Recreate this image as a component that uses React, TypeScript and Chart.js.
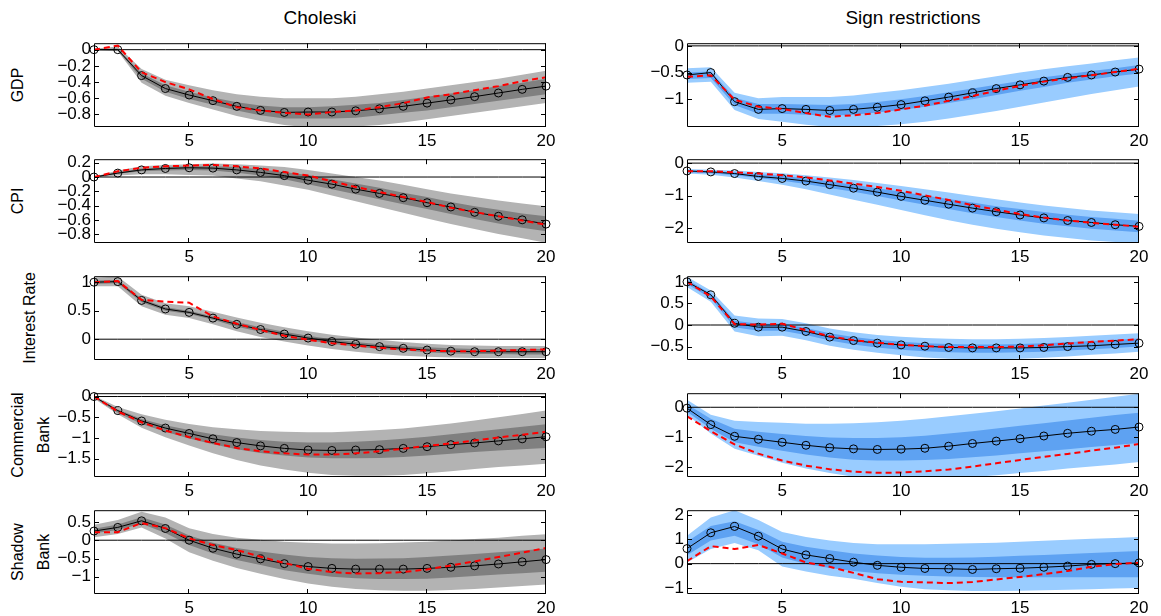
import React, { useEffect, useRef } from "react";
import { Chart, registerables } from "chart.js";

Chart.register(...registerables);
Chart.defaults.font.family = "'Liberation Sans', Arial, Helvetica, sans-serif";

// Horizon (quarters after the shock)
const horizons = [1, 2, 3, 4, 5, 6, 7, 8, 9, 10, 11, 12, 13, 14, 15, 16, 17, 18, 19, 20];
const xTickValues = [5, 10, 15, 20];

// ---------- Choleski identification ----------
const cholGdpMid = [0, 0, -0.32, -0.48, -0.56, -0.63, -0.7, -0.75, -0.775, -0.77, -0.77, -0.755, -0.73, -0.7, -0.66, -0.62, -0.58, -0.535, -0.49, -0.45];
const cholGdpAlt = [0, 0.05, -0.28, -0.4, -0.49, -0.61, -0.71, -0.75, -0.78, -0.8, -0.77, -0.75, -0.71, -0.66, -0.59, -0.55, -0.5, -0.45, -0.39, -0.34];
const cholGdpOuterHi = [0.01, 0.04, -0.24, -0.37, -0.44, -0.5, -0.55, -0.58, -0.6, -0.6, -0.6, -0.58, -0.55, -0.52, -0.48, -0.44, -0.4, -0.36, -0.31, -0.26];
const cholGdpOuterLo = [-0.01, -0.02, -0.41, -0.57, -0.66, -0.74, -0.82, -0.88, -0.93, -0.96, -0.97, -0.95, -0.93, -0.9, -0.86, -0.82, -0.78, -0.74, -0.7, -0.66];
const cholGdpInnerHi = [0.005, 0.01, -0.29, -0.44, -0.52, -0.59, -0.65, -0.69, -0.71, -0.71, -0.7, -0.68, -0.66, -0.62, -0.58, -0.54, -0.5, -0.45, -0.41, -0.36];
const cholGdpInnerLo = [-0.005, -0.01, -0.36, -0.52, -0.61, -0.68, -0.75, -0.81, -0.85, -0.85, -0.85, -0.84, -0.81, -0.78, -0.75, -0.71, -0.67, -0.63, -0.59, -0.55];
const cholGdpTicks = [-0.8, -0.6, -0.4, -0.2, 0];

const cholCpiMid = [0, 0.055, 0.1, 0.12, 0.13, 0.125, 0.1, 0.065, 0.02, -0.045, -0.1, -0.17, -0.23, -0.29, -0.36, -0.42, -0.495, -0.55, -0.6, -0.66];
const cholCpiAlt = [0, 0.08, 0.13, 0.15, 0.16, 0.17, 0.15, 0.12, 0.07, 0.02, -0.06, -0.14, -0.21, -0.28, -0.35, -0.43, -0.49, -0.55, -0.61, -0.67];
const cholCpiOuterHi = [0.005, 0.09, 0.15, 0.17, 0.18, 0.19, 0.18, 0.16, 0.14, 0.1, 0.05, 0, -0.05, -0.11, -0.17, -0.23, -0.28, -0.33, -0.37, -0.41];
const cholCpiOuterLo = [-0.005, 0.02, 0.04, 0.04, 0.03, 0.02, -0.02, -0.06, -0.12, -0.18, -0.26, -0.34, -0.42, -0.5, -0.58, -0.66, -0.73, -0.8, -0.86, -0.92];
const cholCpiInnerHi = [0.003, 0.07, 0.12, 0.14, 0.15, 0.15, 0.14, 0.11, 0.07, 0.03, -0.03, -0.09, -0.15, -0.22, -0.28, -0.35, -0.41, -0.46, -0.51, -0.55];
const cholCpiInnerLo = [-0.003, 0.045, 0.08, 0.09, 0.1, 0.09, 0.06, 0.02, -0.03, -0.1, -0.17, -0.24, -0.31, -0.38, -0.45, -0.52, -0.59, -0.65, -0.71, -0.76];
const cholCpiTicks = [-0.8, -0.6, -0.4, -0.2, 0, 0.2];

const cholRateMid = [1, 1.01, 0.68, 0.53, 0.47, 0.37, 0.26, 0.17, 0.09, 0.02, -0.04, -0.09, -0.13, -0.16, -0.19, -0.21, -0.22, -0.22, -0.22, -0.22];
const cholRateAlt = [1, 1.02, 0.69, 0.66, 0.64, 0.4, 0.27, 0.16, 0.06, -0.01, -0.07, -0.11, -0.15, -0.18, -0.2, -0.21, -0.21, -0.2, -0.19, -0.18];
const cholRateOuterHi = [1.08, 1.1, 0.78, 0.63, 0.58, 0.48, 0.38, 0.29, 0.21, 0.14, 0.08, 0.03, -0.01, -0.05, -0.08, -0.1, -0.11, -0.12, -0.12, -0.12];
const cholRateOuterLo = [0.93, 0.93, 0.58, 0.43, 0.37, 0.26, 0.14, 0.04, -0.04, -0.11, -0.17, -0.22, -0.26, -0.29, -0.31, -0.32, -0.33, -0.33, -0.33, -0.33];
const cholRateInnerHi = [1.03, 1.04, 0.71, 0.56, 0.5, 0.4, 0.3, 0.21, 0.13, 0.06, 0, -0.05, -0.09, -0.12, -0.14, -0.16, -0.17, -0.17, -0.17, -0.17];
const cholRateInnerLo = [0.97, 0.98, 0.65, 0.5, 0.44, 0.34, 0.22, 0.13, 0.05, -0.02, -0.08, -0.13, -0.17, -0.2, -0.23, -0.25, -0.26, -0.26, -0.27, -0.27];
const cholRateTicks = [0, 0.5, 1];

const cholCommMid = [0, -0.34, -0.59, -0.76, -0.89, -1.02, -1.11, -1.19, -1.25, -1.29, -1.3, -1.29, -1.28, -1.25, -1.21, -1.16, -1.12, -1.07, -1.02, -0.97];
const cholCommAlt = [0, -0.36, -0.62, -0.82, -0.98, -1.12, -1.24, -1.32, -1.37, -1.4, -1.4, -1.37, -1.32, -1.26, -1.19, -1.13, -1.06, -0.99, -0.92, -0.85];
const cholCommOuterHi = [0.02, -0.25, -0.43, -0.56, -0.66, -0.74, -0.79, -0.83, -0.85, -0.86, -0.86, -0.84, -0.81, -0.77, -0.71, -0.65, -0.58, -0.5, -0.42, -0.34];
const cholCommOuterLo = [-0.05, -0.43, -0.75, -0.98, -1.18, -1.37, -1.53, -1.66, -1.76, -1.84, -1.89, -1.91, -1.91, -1.89, -1.85, -1.8, -1.75, -1.7, -1.66, -1.62];
const cholCommInnerHi = [0, -0.31, -0.54, -0.69, -0.81, -0.91, -0.99, -1.05, -1.09, -1.11, -1.11, -1.09, -1.06, -1.02, -0.97, -0.91, -0.85, -0.79, -0.73, -0.67];
const cholCommInnerLo = [-0.02, -0.39, -0.66, -0.85, -1.01, -1.15, -1.27, -1.36, -1.42, -1.47, -1.49, -1.49, -1.48, -1.46, -1.42, -1.38, -1.34, -1.3, -1.27, -1.24];
const cholCommTicks = [-1.5, -1, -0.5, 0];

const cholShadowMid = [0.25, 0.35, 0.53, 0.32, 0, -0.22, -0.38, -0.51, -0.64, -0.72, -0.77, -0.79, -0.79, -0.79, -0.77, -0.74, -0.7, -0.65, -0.59, -0.53];
const cholShadowAlt = [0.22, 0.22, 0.47, 0.33, 0.05, -0.13, -0.27, -0.45, -0.62, -0.78, -0.87, -0.91, -0.9, -0.87, -0.8, -0.69, -0.58, -0.46, -0.34, -0.21];
const cholShadowOuterHi = [0.42, 0.55, 0.78, 0.62, 0.33, 0.17, 0.07, 0.01, -0.04, -0.07, -0.09, -0.09, -0.08, -0.06, -0.04, -0.01, 0.03, 0.07, 0.12, 0.16];
const cholShadowOuterLo = [0.08, 0.17, 0.35, 0.05, -0.33, -0.56, -0.76, -0.92, -1.06, -1.18, -1.27, -1.33, -1.37, -1.38, -1.38, -1.36, -1.33, -1.29, -1.25, -1.21];
const cholShadowInnerHi = [0.31, 0.43, 0.63, 0.43, 0.13, -0.07, -0.21, -0.31, -0.39, -0.46, -0.49, -0.51, -0.5, -0.49, -0.46, -0.42, -0.38, -0.33, -0.28, -0.23];
const cholShadowInnerLo = [0.19, 0.28, 0.45, 0.2, -0.13, -0.36, -0.54, -0.68, -0.82, -0.92, -1, -1.04, -1.06, -1.06, -1.05, -1.02, -0.98, -0.94, -0.9, -0.86];
const cholShadowTicks = [-1, -0.5, 0, 0.5];

// ---------- Sign restrictions ----------
const signGdpMid = [-0.545, -0.5, -1.045, -1.19, -1.175, -1.19, -1.21, -1.19, -1.15, -1.1, -1.03, -0.96, -0.88, -0.8, -0.73, -0.66, -0.59, -0.545, -0.49, -0.435];
const signGdpAlt = [-0.58, -0.55, -1.01, -1.14, -1.18, -1.26, -1.33, -1.3, -1.26, -1.19, -1.12, -1.03, -0.94, -0.84, -0.75, -0.67, -0.61, -0.55, -0.49, -0.43];
const signGdpOuterHi = [-0.42, -0.4, -0.88, -0.98, -0.96, -0.96, -0.96, -0.93, -0.88, -0.83, -0.77, -0.71, -0.64, -0.57, -0.5, -0.44, -0.38, -0.33, -0.27, -0.22];
const signGdpOuterLo = [-0.69, -0.67, -1.2, -1.37, -1.42, -1.48, -1.52, -1.52, -1.5, -1.47, -1.42, -1.36, -1.29, -1.22, -1.14, -1.06, -0.98, -0.9, -0.83, -0.76];
const signGdpInnerHi = [-0.5, -0.48, -0.97, -1.09, -1.09, -1.1, -1.11, -1.09, -1.05, -1, -0.94, -0.87, -0.8, -0.73, -0.66, -0.59, -0.53, -0.47, -0.42, -0.36];
const signGdpInnerLo = [-0.62, -0.6, -1.11, -1.27, -1.27, -1.29, -1.31, -1.29, -1.25, -1.2, -1.14, -1.07, -1, -0.92, -0.84, -0.77, -0.69, -0.63, -0.57, -0.52];
const signGdpTicks = [-1, -0.5, 0];

const signCpiMid = [-0.24, -0.27, -0.32, -0.41, -0.47, -0.55, -0.66, -0.77, -0.89, -1.02, -1.14, -1.26, -1.38, -1.49, -1.59, -1.68, -1.76, -1.82, -1.89, -1.94];
const signCpiAlt = [-0.25, -0.25, -0.28, -0.32, -0.37, -0.44, -0.53, -0.63, -0.73, -0.85, -0.99, -1.13, -1.29, -1.43, -1.56, -1.67, -1.76, -1.83, -1.89, -1.95];
const signCpiOuterHi = [-0.18, -0.2, -0.23, -0.27, -0.31, -0.37, -0.44, -0.52, -0.61, -0.7, -0.8, -0.9, -1.01, -1.11, -1.21, -1.3, -1.38, -1.45, -1.51, -1.56];
const signCpiOuterLo = [-0.32, -0.36, -0.44, -0.55, -0.66, -0.8, -0.96, -1.12, -1.28, -1.44, -1.6, -1.75, -1.89, -2.01, -2.12, -2.22, -2.3, -2.37, -2.42, -2.47];
const signCpiInnerHi = [-0.22, -0.24, -0.28, -0.34, -0.39, -0.47, -0.56, -0.66, -0.77, -0.88, -0.99, -1.1, -1.21, -1.32, -1.41, -1.5, -1.58, -1.65, -1.71, -1.77];
const signCpiInnerLo = [-0.28, -0.31, -0.37, -0.46, -0.54, -0.64, -0.76, -0.88, -1.01, -1.15, -1.28, -1.41, -1.54, -1.65, -1.76, -1.86, -1.94, -2.01, -2.07, -2.12];
const signCpiTicks = [-2, -1, 0];

const signRateMid = [1, 0.7, 0.04, -0.05, -0.05, -0.15, -0.28, -0.36, -0.42, -0.46, -0.49, -0.52, -0.53, -0.53, -0.53, -0.52, -0.5, -0.48, -0.45, -0.42];
const signRateAlt = [1, 0.66, 0.02, 0.01, 0.03, -0.12, -0.26, -0.35, -0.41, -0.46, -0.49, -0.51, -0.51, -0.51, -0.5, -0.47, -0.43, -0.39, -0.36, -0.33];
const signRateOuterHi = [1.12, 0.8, 0.22, 0.15, 0.14, 0.04, -0.08, -0.17, -0.23, -0.27, -0.3, -0.32, -0.33, -0.33, -0.32, -0.3, -0.28, -0.25, -0.22, -0.19];
const signRateOuterLo = [0.88, 0.54, -0.15, -0.26, -0.25, -0.35, -0.48, -0.57, -0.64, -0.7, -0.75, -0.78, -0.79, -0.79, -0.78, -0.76, -0.73, -0.69, -0.66, -0.62];
const signRateInnerHi = [1.05, 0.73, 0.1, 0.03, 0.03, -0.07, -0.19, -0.28, -0.34, -0.39, -0.42, -0.44, -0.45, -0.45, -0.44, -0.42, -0.4, -0.37, -0.34, -0.31];
const signRateInnerLo = [0.95, 0.62, -0.05, -0.13, -0.13, -0.23, -0.36, -0.45, -0.52, -0.57, -0.61, -0.63, -0.64, -0.64, -0.63, -0.62, -0.59, -0.56, -0.53, -0.5];
const signRateTicks = [-0.5, 0, 0.5, 1];

const signCommMid = [-0.03, -0.58, -0.97, -1.07, -1.17, -1.27, -1.35, -1.39, -1.41, -1.4, -1.37, -1.3, -1.21, -1.13, -1.05, -0.96, -0.87, -0.8, -0.74, -0.66];
const signCommAlt = [-0.3, -0.8, -1.24, -1.55, -1.78, -1.95, -2.07, -2.15, -2.19, -2.18, -2.14, -2.08, -1.98, -1.87, -1.76, -1.66, -1.56, -1.45, -1.35, -1.23];
const signCommOuterHi = [0.25, -0.25, -0.45, -0.49, -0.52, -0.55, -0.55, -0.53, -0.5, -0.45, -0.38, -0.3, -0.22, -0.13, -0.04, 0.06, 0.15, 0.25, 0.35, 0.45];
const signCommOuterLo = [-0.25, -0.88, -1.39, -1.62, -1.85, -2.05, -2.2, -2.32, -2.38, -2.4, -2.4, -2.37, -2.33, -2.27, -2.2, -2.13, -2.05, -1.98, -1.91, -1.83];
const signCommInnerHi = [0.1, -0.38, -0.72, -0.82, -0.89, -0.96, -1.01, -1.03, -1.03, -1, -0.95, -0.88, -0.8, -0.71, -0.62, -0.53, -0.44, -0.35, -0.26, -0.18];
const signCommInnerLo = [-0.15, -0.72, -1.17, -1.32, -1.45, -1.58, -1.68, -1.75, -1.78, -1.78, -1.76, -1.73, -1.67, -1.61, -1.54, -1.47, -1.4, -1.33, -1.26, -1.19];
const signCommTicks = [-2, -1, 0];

const signShadowMid = [0.62, 1.27, 1.53, 1.13, 0.6, 0.36, 0.21, 0.06, -0.07, -0.15, -0.2, -0.21, -0.24, -0.21, -0.19, -0.15, -0.1, -0.03, 0, 0.03];
const signShadowAlt = [0.1, 0.72, 0.6, 0.77, 0.42, 0.05, -0.13, -0.38, -0.64, -0.75, -0.77, -0.8, -0.76, -0.65, -0.55, -0.43, -0.3, -0.13, -0.02, 0.04];
const signShadowOuterHi = [1.15, 1.9, 2.2, 1.8, 1.3, 1.1, 0.95, 0.85, 0.8, 0.8, 0.8, 0.82, 0.84, 0.86, 0.9, 0.94, 0.98, 1.02, 1.06, 1.1];
const signShadowOuterLo = [0.05, 0.6, 0.85, 0.55, -0.12, -0.32, -0.5, -0.62, -0.8, -0.95, -1.05, -1.1, -1.13, -1.13, -1.12, -1.1, -1.08, -1.05, -1.02, -1];
const signShadowInnerHi = [0.9, 1.55, 1.75, 1.38, 0.9, 0.7, 0.55, 0.42, 0.33, 0.27, 0.24, 0.24, 0.25, 0.28, 0.32, 0.36, 0.4, 0.44, 0.48, 0.52];
const signShadowInnerLo = [0.35, 0.95, 1.15, 0.8, 0.25, -0.02, -0.18, -0.3, -0.4, -0.46, -0.5, -0.53, -0.55, -0.56, -0.56, -0.56, -0.56, -0.56, -0.56, -0.56];
const signShadowTicks = [-1, 0, 1, 2];

const columnTitles = ["Choleski", "Sign restrictions"];
const rowLabels = [["GDP"], ["CPI"], ["Interest Rate"], ["Commercial", "Bank"], ["Shadow", "Bank"]];

const greys = { outer: "#b3b3b3", inner: "#808080" };
const blues = { outer: "#99ccff", inner: "#5ea2f2" };

// Geometry of the 5 x 2 grid of plot areas
const COL_LEFT = [94, 687];
const PLOT_W = 452;
const ROW_TOP = [42, 158, 275, 392, 509];
const PLOT_H = 85;
const Y_AXIS_W = 90;
const X_AXIS_H = 24;
const PAD_TOP = 12;
const PAD_RIGHT = 16;

type PanelSpec = {
  row: number;
  col: number;
  mid: number[];
  alt: number[];
  outerLo: number[];
  outerHi: number[];
  innerLo: number[];
  innerHi: number[];
  yMin: number;
  yMax: number;
  yTicks: number[];
};

const panels: PanelSpec[] = [
  { row: 0, col: 0, mid: cholGdpMid, alt: cholGdpAlt, outerLo: cholGdpOuterLo, outerHi: cholGdpOuterHi, innerLo: cholGdpInnerLo, innerHi: cholGdpInnerHi, yMin: -0.955, yMax: 0.08, yTicks: cholGdpTicks },
  { row: 1, col: 0, mid: cholCpiMid, alt: cholCpiAlt, outerLo: cholCpiOuterLo, outerHi: cholCpiOuterHi, innerLo: cholCpiInnerLo, innerHi: cholCpiInnerHi, yMin: -0.925, yMax: 0.25, yTicks: cholCpiTicks },
  { row: 2, col: 0, mid: cholRateMid, alt: cholRateAlt, outerLo: cholRateOuterLo, outerHi: cholRateOuterHi, innerLo: cholRateInnerLo, innerHi: cholRateInnerHi, yMin: -0.365, yMax: 1.105, yTicks: cholRateTicks },
  { row: 3, col: 0, mid: cholCommMid, alt: cholCommAlt, outerLo: cholCommOuterLo, outerHi: cholCommOuterHi, innerLo: cholCommInnerLo, innerHi: cholCommInnerHi, yMin: -1.94, yMax: 0.08, yTicks: cholCommTicks },
  { row: 4, col: 0, mid: cholShadowMid, alt: cholShadowAlt, outerLo: cholShadowOuterLo, outerHi: cholShadowOuterHi, innerLo: cholShadowInnerLo, innerHi: cholShadowInnerHi, yMin: -1.47, yMax: 0.82, yTicks: cholShadowTicks },
  { row: 0, col: 1, mid: signGdpMid, alt: signGdpAlt, outerLo: signGdpOuterLo, outerHi: signGdpOuterHi, innerLo: signGdpInnerLo, innerHi: signGdpInnerHi, yMin: -1.52, yMax: 0.05, yTicks: signGdpTicks },
  { row: 1, col: 1, mid: signCpiMid, alt: signCpiAlt, outerLo: signCpiOuterLo, outerHi: signCpiOuterHi, innerLo: signCpiInnerLo, innerHi: signCpiInnerHi, yMin: -2.45, yMax: 0.12, yTicks: signCpiTicks },
  { row: 2, col: 1, mid: signRateMid, alt: signRateAlt, outerLo: signRateOuterLo, outerHi: signRateOuterHi, innerLo: signRateInnerLo, innerHi: signRateInnerHi, yMin: -0.81, yMax: 1.13, yTicks: signRateTicks },
  { row: 3, col: 1, mid: signCommMid, alt: signCommAlt, outerLo: signCommOuterLo, outerHi: signCommOuterHi, innerLo: signCommInnerLo, innerHi: signCommInnerHi, yMin: -2.33, yMax: 0.47, yTicks: signCommTicks },
  { row: 4, col: 1, mid: signShadowMid, alt: signShadowAlt, outerLo: signShadowOuterLo, outerHi: signShadowOuterHi, innerLo: signShadowInnerLo, innerHi: signShadowInnerHi, yMin: -1.25, yMax: 2.2, yTicks: signShadowTicks },
];

const FONT = "'Liberation Sans', Arial, Helvetica, sans-serif";

const fmtTick = (v: number) => {
  const s = String(Math.round(v * 100) / 100);
  return s.replace("-", "\u2212");
};

const toPoints = (arr: number[]) => horizons.map((h, i) => ({ x: h, y: arr[i] }));

// Box around the plot area with inward tick marks on all four sides
const axesBox = {
  id: "axesBox",
  afterDatasetsDraw(chart: any) {
    const { ctx, chartArea, scales } = chart;
    const { left, right, top, bottom } = chartArea;
    const len = 5;
    ctx.save();
    ctx.strokeStyle = "#000";
    ctx.lineWidth = 1;
    ctx.beginPath();
    ctx.rect(left + 0.5, top + 0.5, right - left - 1, bottom - top - 1);
    for (const t of scales.x.ticks) {
      const px = Math.round(scales.x.getPixelForValue(t.value)) - 0.5;
      ctx.moveTo(px, bottom);
      ctx.lineTo(px, bottom - len);
      ctx.moveTo(px, top);
      ctx.lineTo(px, top + len);
    }
    for (const t of scales.y.ticks) {
      const py = Math.round(scales.y.getPixelForValue(t.value)) + 0.5;
      ctx.moveTo(left, py);
      ctx.lineTo(left + len, py);
      ctx.moveTo(right, py);
      ctx.lineTo(right - len, py);
    }
    ctx.stroke();
    ctx.restore();
  },
};

function Panel({ spec }: { spec: PanelSpec }) {
  const ref = useRef<HTMLCanvasElement>(null);
  const width = Y_AXIS_W + PLOT_W + PAD_RIGHT;
  const height = PAD_TOP + PLOT_H + X_AXIS_H;
  const palette = spec.col === 0 ? greys : blues;

  useEffect(() => {
    const hidden = "rgba(0,0,0,0)";
    const band = (data: number[], fill: any, color: string, order: number) => ({
      data: toPoints(data),
      borderColor: hidden,
      borderWidth: 1,
      backgroundColor: color,
      pointRadius: 0,
      fill,
      order,
    });
    const chart = new Chart(ref.current as HTMLCanvasElement, {
      type: "line",
      data: {
        datasets: [
          band(spec.outerLo, false, palette.outer, 5),
          band(spec.outerHi, "-1", palette.outer, 5),
          band(spec.innerLo, false, palette.inner, 4),
          band(spec.innerHi, "-1", palette.inner, 4),
          {
            data: toPoints(horizons.map(() => 0)),
            borderColor: "#000",
            borderWidth: 1,
            pointRadius: 0,
            fill: false,
            order: 3,
          },
          {
            data: toPoints(spec.mid),
            borderColor: "#000",
            borderWidth: 1,
            pointRadius: 4,
            pointStyle: "circle",
            pointBorderColor: "#000",
            pointBorderWidth: 1,
            pointBackgroundColor: hidden,
            fill: false,
            clip: 8,
            order: 2,
          },
          {
            data: toPoints(spec.alt),
            borderColor: "#ff0000",
            borderWidth: 2,
            borderDash: [6, 4],
            pointRadius: 0,
            fill: false,
            order: 1,
          },
        ] as any,
      },
      options: {
        responsive: false,
        animation: false,
        devicePixelRatio: 1,
        layout: { padding: { top: PAD_TOP, right: PAD_RIGHT, left: 0, bottom: 0 } },
        plugins: { legend: { display: false }, tooltip: { enabled: false } },
        elements: { line: { tension: 0 } },
        scales: {
          x: {
            type: "linear",
            min: 1,
            max: 20,
            grid: { display: false, drawTicks: false },
            border: { display: false },
            ticks: { color: "#000", font: { size: 17, family: FONT }, padding: 4, maxRotation: 0, autoSkip: false, callback: (v: any) => String(v) },
            afterBuildTicks: (s: any) => {
              s.ticks = xTickValues.map((v) => ({ value: v }));
            },
            afterFit: (s: any) => {
              s.height = X_AXIS_H;
            },
          },
          y: {
            type: "linear",
            min: spec.yMin,
            max: spec.yMax,
            grid: { display: false, drawTicks: false },
            border: { display: false },
            ticks: { color: "#000", font: { size: 17, family: FONT }, padding: 3, autoSkip: false, callback: (v: any) => fmtTick(Number(v)) },
            afterBuildTicks: (s: any) => {
              s.ticks = spec.yTicks.map((v) => ({ value: v }));
            },
            afterFit: (s: any) => {
              s.width = Y_AXIS_W;
            },
          },
        },
      } as any,
      plugins: [axesBox],
    });
    return () => chart.destroy();
  }, [spec]);

  return (
    <canvas
      ref={ref}
      width={width}
      height={height}
      style={{
        position: "absolute",
        left: COL_LEFT[spec.col] - Y_AXIS_W,
        top: ROW_TOP[spec.row] - PAD_TOP,
        width,
        height,
      }}
    />
  );
}

export default function App() {
  return (
    <div
      style={{
        position: "absolute",
        left: 0,
        top: 0,
        width: 1161,
        height: 616,
        background: "#fff",
        overflow: "hidden",
        fontFamily: FONT,
        color: "#000",
      }}
    >
      {columnTitles.map((t, c) => (
        <div
          key={t}
          style={{
            position: "absolute",
            left: COL_LEFT[c],
            width: PLOT_W,
            top: 7,
            textAlign: "center",
            fontSize: 19,
            lineHeight: "22px",
          }}
        >
          {t}
        </div>
      ))}
      {rowLabels.map((lines, r) => {
        const cx = lines.length > 1 ? 31 : r === 2 ? 30 : 18;
        const cy = ROW_TOP[r] + PLOT_H / 2;
        return (
          <div
            key={r}
            style={{
              position: "absolute",
              left: cx,
              top: cy,
              transform: "translate(-50%, -50%) rotate(-90deg)",
              whiteSpace: "nowrap",
              textAlign: "center",
              fontSize: 16,
              lineHeight: "26px",
            }}
          >
            {lines.map((l, i) => (
              <div key={i}>{l}</div>
            ))}
          </div>
        );
      })}
      {panels.map((p) => (
        <Panel key={`${p.row}-${p.col}`} spec={p} />
      ))}
    </div>
  );
}
